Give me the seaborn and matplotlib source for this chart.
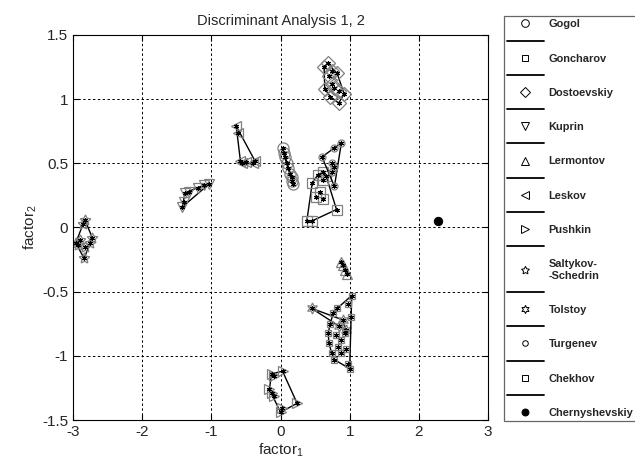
import numpy as np
import matplotlib
matplotlib.use("Agg")
import matplotlib.pyplot as plt
from matplotlib.lines import Line2D
import seaborn as sns

# Discriminant scores (factor 1, factor 2)
gogol_x = [0.03, 0.05, 0.06, 0.09, 0.11, 0.14, 0.16, 0.17, 0.18]
gogol_y = [0.62, 0.58, 0.55, 0.50, 0.46, 0.42, 0.39, 0.36, 0.34]
goncharov_x = [0.61, 0.54, 0.61, 0.66, 0.46, 0.57, 0.52, 0.61, 0.81, 0.38, 0.45]
goncharov_y = [0.43, 0.41, 0.37, 0.40, 0.35, 0.28, 0.24, 0.22, 0.14, 0.05, 0.05]
dostoevskiy_x = [0.63, 0.68, 0.74, 0.82, 0.70, 0.64, 0.74, 0.78, 0.84, 0.92, 0.84, 0.72]
dostoevskiy_y = [1.25, 1.28, 1.22, 1.20, 1.18, 1.08, 1.12, 1.09, 1.06, 1.04, 0.97, 1.02]
kuprin_x = [-1.42, -1.40, -1.38, -1.33, -1.20, -1.10, -1.03]
kuprin_y = [0.16, 0.20, 0.27, 0.28, 0.31, 0.33, 0.34]
lermontov_x = [0.88, 0.91, 0.96, 0.93]
lermontov_y = [-0.27, -0.29, -0.36, -0.33]
leskov_x = [-0.64, -0.62, -0.58, -0.55, -0.50, -0.40, -0.37]
leskov_y = [0.79, 0.74, 0.52, 0.50, 0.51, 0.50, 0.52]
pushkin_x = [-0.13, -0.10, 0.03, -0.16, -0.13, -0.10, 0.24, 0.00, 0.02]
pushkin_y = [-1.14, -1.16, -1.12, -1.26, -1.29, -1.31, -1.37, -1.44, -1.41]
saltykov_x = [-2.83, -2.85, -2.96, -2.90, -2.93, -2.72, -2.75, -2.82, -2.84]
saltykov_y = [0.06, 0.03, -0.12, -0.10, -0.14, -0.08, -0.12, -0.15, -0.24]
tolstoy_x = [0.45, 0.90, 0.95, 0.85]
tolstoy_y = [-0.63, -0.72, -0.80, -0.77]
turgenev_x = [0.88, 0.78, 0.60, 0.75, 0.77, 0.74, 0.78]
turgenev_y = [0.66, 0.62, 0.55, 0.50, 0.47, 0.43, 0.32]
chekhov_x = [1.03, 0.98, 0.82, 0.76, 0.72, 0.69, 0.70, 0.74, 0.78, 0.83,
             0.88, 0.80, 0.93, 0.95, 0.97, 1.00, 1.02, 0.88]
chekhov_y = [-0.53, -0.60, -0.63, -0.67, -0.75, -0.82, -0.90, -0.98, -1.03, -0.93,
             -0.88, -0.84, -0.82, -0.95, -1.06, -1.10, -0.70, -0.98]
chernyshevskiy_x = [2.27]
chernyshevskiy_y = [0.05]

authors = ["Gogol", "Goncharov", "Dostoevskiy", "Kuprin", "Lermontov", "Leskov",
           "Pushkin", "Saltykov-\n-Schedrin", "Tolstoy", "Turgenev", "Chekhov",
           "Chernyshevskiy"]
xs = [gogol_x, goncharov_x, dostoevskiy_x, kuprin_x, lermontov_x, leskov_x,
      pushkin_x, saltykov_x, tolstoy_x, turgenev_x, chekhov_x, chernyshevskiy_x]
ys = [gogol_y, goncharov_y, dostoevskiy_y, kuprin_y, lermontov_y, leskov_y,
      pushkin_y, saltykov_y, tolstoy_y, turgenev_y, chekhov_y, chernyshevskiy_y]
markers = ["o", "s", "D", "v", "^", "<", ">", (5, 1, 0), (6, 1, 0), "o", "s", "o"]
msizes = [8, 7, 7, 7, 7, 7, 7, 8, 8, 5, 5, 6]
leg_sizes = [5.5, 4.8, 4.8, 5.5, 5.5, 5.5, 5.5, 6, 6, 4, 4, 5]


def hull(px, py):
    pts = sorted(set(zip(px, py)))
    if len(pts) < 3:
        return pts

    def cross(o, a, b):
        return (a[0] - o[0]) * (b[1] - o[1]) - (a[1] - o[1]) * (b[0] - o[0])

    lower, upper = [], []
    for p in pts:
        while len(lower) >= 2 and cross(lower[-2], lower[-1], p) <= 0:
            lower.pop()
        lower.append(p)
    for p in reversed(pts):
        while len(upper) >= 2 and cross(upper[-2], upper[-1], p) <= 0:
            upper.pop()
        upper.append(p)
    h = lower[:-1] + upper[:-1]
    return h + [h[0]]


sns.set_style("white")
plt.rcParams["font.family"] = ["Liberation Sans", "DejaVu Sans"]
plt.rcParams["mathtext.fontset"] = "custom"
plt.rcParams["mathtext.rm"] = "Liberation Sans"
plt.rcParams["mathtext.it"] = "Liberation Sans"

fig = plt.figure(figsize=(6.35, 4.65), dpi=100)
ax = fig.add_axes([73 / 635, 1 - 420 / 465, 415 / 635, 385 / 465])

for name, x, y, m, ms in zip(authors, xs, ys, markers, msizes):
    if name == "Chernyshevskiy":
        sns.lineplot(x=x, y=y, ax=ax, sort=False, estimator=None, marker="o",
                     linestyle="", color="k", markerfacecolor="k",
                     markeredgecolor="k", markersize=ms)
        continue
    h = hull(x, y)
    sns.lineplot(x=[p[0] for p in h], y=[p[1] for p in h], ax=ax, sort=False,
                 estimator=None, color="k", lw=1.0)
    sns.lineplot(x=x, y=y, ax=ax, sort=False, estimator=None, marker=m,
                 linestyle="", color="#808080", markerfacecolor="none",
                 markeredgecolor="#808080", markeredgewidth=0.9, markersize=ms)
    sns.lineplot(x=x, y=y, ax=ax, sort=False, estimator=None, marker=(6, 2, 0),
                 linestyle="", color="k", markeredgecolor="k",
                 markeredgewidth=0.8, markersize=3.5)

ax.set_xlim(-3, 3)
ax.set_ylim(-1.5, 1.5)
ax.set_xticks(np.arange(-3, 4, 1))
ax.set_yticks(np.arange(-1.5, 1.6, 0.5))
ax.set_xticklabels(["-3", "-2", "-1", "0", "1", "2", "3"])
ax.set_yticklabels(["-1.5", "-1", "-0.5", "0", "0.5", "1", "1.5"])
ax.grid(True, color="k", linestyle=(0, (2.5, 2.5)), linewidth=0.7)
ax.tick_params(direction="in", length=4, width=0.8, labelsize=11,
               top=True, right=True, bottom=True, left=True, color="k")
for s in ax.spines.values():
    s.set_color("k")
    s.set_linewidth(0.8)
ax.set_title("Discriminant Analysis 1, 2", fontsize=10.5, pad=7)
ax.set_xlabel("factor$_1$", fontsize=11, labelpad=2)
ax.set_ylabel("factor$_2$", fontsize=11, labelpad=2)

handles = []
for i, (name, m, ms) in enumerate(zip(authors, markers, leg_sizes)):
    fc = "k" if name == "Chernyshevskiy" else "w"
    handles.append(Line2D([], [], marker=m, linestyle="", markerfacecolor=fc,
                          markeredgecolor="k", markeredgewidth=0.7,
                          markersize=ms, label=name))
    if i < len(authors) - 1:
        handles.append(Line2D([], [], color="k", lw=1.3, label=" "))

leg = fig.legend(handles=handles, loc="upper left",
                 bbox_to_anchor=(504 / 635, 1 - 16 / 465),
                 prop={"weight": "bold", "size": 7.9},
                 frameon=True, fancybox=False, edgecolor="#404040",
                 handlelength=3.3, handletextpad=0.45, labelspacing=0.65,
                 borderpad=0.3, borderaxespad=0)
leg.get_frame().set_linewidth(0.9)

fig.savefig("out.png", dpi=100)
